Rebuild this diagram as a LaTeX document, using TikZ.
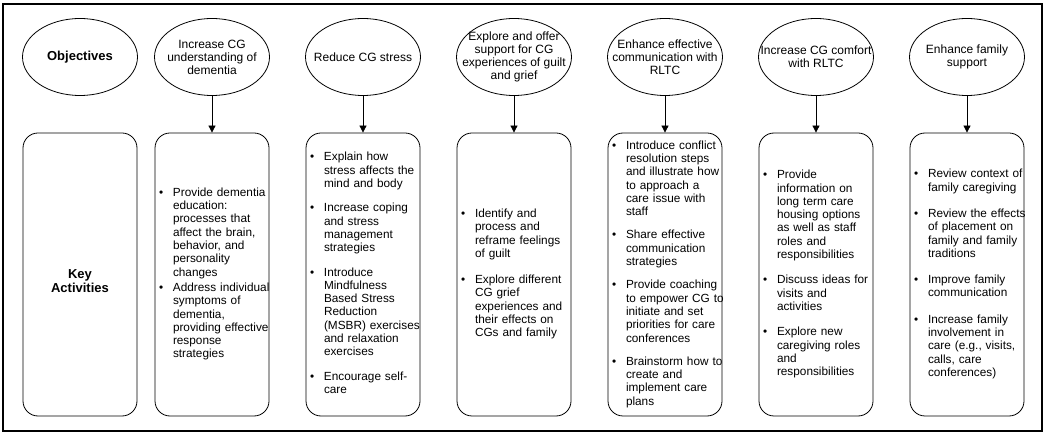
\documentclass[tikz,border=0pt]{standalone}
\usepackage{fontspec}
\setmainfont{Liberation Sans}
\usetikzlibrary{shapes,arrows.meta,positioning}

\newcommand{\actitem}[1]{\makebox[14pt][l]{\textbullet}\begin{tabular}[t]{@{}l@{}}#1\end{tabular}}

\begin{document}
\begin{tikzpicture}[node distance=151pt, auto, x=1pt, y=1pt]

% Define styles
\tikzstyle{goal} = [ellipse, draw, line width=0.8pt, minimum width=115pt, minimum height=77pt, inner sep=-20pt, align=center, font=\fontsize{12}{13}\selectfont]
\tikzstyle{actbox} = [rectangle, draw, line width=0.8pt, rounded corners=15pt, minimum width=114pt, minimum height=283pt, text width=106pt, inner xsep=4pt, align=left, font=\fontsize{11.8}{13.3}\selectfont]
\tikzstyle{arrow} = [line width=0.8pt, -{Triangle[length=7pt, width=7pt]}]

\useasboundingbox (0,0) rectangle (1047,-435);
\draw [line width=1.3pt] (3,-4) rectangle (1042,-431);

% Objectives
\node [goal, font=\bfseries\fontsize{13}{15}\selectfont] (obj) at (80,-57) {Objectives};
\node [goal, right of=obj, node distance=132pt] (g1) {Increase CG\\understanding of\\dementia};
\node [goal, right of=g1] (g2) {Reduce CG stress};
\node [goal, right of=g2] (g3) {Explore and offer\\support for CG\\experiences of guilt\\and grief};
\node [goal, right of=g3] (g4) {Enhance effective\\communication with\\RLTC};
\node [goal, right of=g4] (g5) {Increase CG comfort\\with RLTC};
\node [goal, right of=g5] (g6) {Enhance family\\support};

% Key activities
\node [actbox, below of=obj, node distance=217.5pt, align=center, font=\bfseries\fontsize{13}{14}\selectfont] (key) {\raisebox{-8pt}[\height][\depth]{\begin{tabular}{@{}c@{}}Key\\Activities\end{tabular}}};
\node [actbox, below of=g1, node distance=217.5pt] (a1) {%
  \actitem{Provide dementia\\education:\\processes that\\affect the brain,\\behavior, and\\personality\\changes}\\[1pt]
  \actitem{Address individual\\symptoms of\\dementia,\\providing effective\\response\\strategies}};
\node [actbox, below of=g2, node distance=217.5pt] (a2) {%
  \actitem{Explain how\\stress affects the\\mind and body}\\[10pt]
  \actitem{Increase coping\\and stress\\management\\strategies}\\[10pt]
  \actitem{Introduce\\Mindfulness\\Based Stress\\Reduction\\(MSBR) exercises\\and relaxation\\exercises}\\[10pt]
  \actitem{Encourage self-\\care}};
\node [actbox, below of=g3, node distance=217.5pt] (a3) {%
  \actitem{Identify and\\process and\\reframe feelings\\of guilt}\\[12pt]
  \actitem{Explore different\\CG grief\\experiences and\\their effects on\\CGs and family}};
\node [actbox, below of=g4, node distance=217.5pt] (a4) {%
  \actitem{Introduce conflict\\resolution steps\\and illustrate how\\to approach a\\care issue with\\staff}\\[9pt]
  \actitem{Share effective\\communication\\strategies}\\[9pt]
  \actitem{Provide coaching\\to empower CG to\\initiate and set\\priorities for care\\conferences}\\[9pt]
  \actitem{Brainstorm how to\\create and\\implement care\\plans}};
\node [actbox, below of=g5, node distance=217.5pt] (a5) {%
  \actitem{Provide\\information on\\long term care\\housing options\\as well as staff\\roles and\\responsibilities}\\[11pt]
  \actitem{Discuss ideas for\\visits and\\activities}\\[11pt]
  \actitem{Explore new\\caregiving roles\\and\\responsibilities}};
\node [actbox, below of=g6, node distance=217.5pt] (a6) {%
  \actitem{Review context of\\family caregiving}\\[12pt]
  \actitem{Review the effects\\of placement on\\family and family\\traditions}\\[12pt]
  \actitem{Improve family\\communication}\\[12pt]
  \actitem{Increase family\\involvement in\\care (e.g., visits,\\calls, care\\conferences)}};

% Arrows
\draw [arrow] (g1) -- (a1);
\draw [arrow] (g2) -- (a2);
\draw [arrow] (g3) -- (a3);
\draw [arrow] (g4) -- (a4);
\draw [arrow] (g5) -- (a5);
\draw [arrow] (g6) -- (a6);

\end{tikzpicture}
\end{document}
